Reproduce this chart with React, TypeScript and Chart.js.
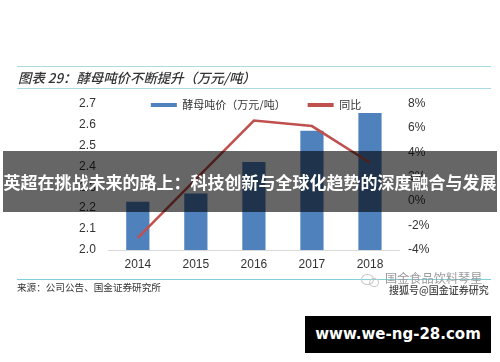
import React, { useEffect, useRef } from "react";
import { Chart, registerables } from "chart.js";

Chart.register(...registerables);

const categories = ["2014", "2015", "2016", "2017", "2018"];
const priceValues = [2.23, 2.27, 2.42, 2.57, 2.655];
const yoyValues = [-3.0, 1.8, 6.6, 6.15, 3.15];
const priceLabel = "酵母吨价（万元/吨）";
const yoyLabel = "同比";
const titleText = "图表 29：酵母吨价不断提升（万元/吨）";
const sourceText = "来源：公司公告、国金证券研究所";
const bannerText = "英超在挑战未来的路上：科技创新与全球化趋势的深度融合与发展";
const siteText = "www.we-ng-28.com";
const watermarkTop = "国金食品饮料琴星";
const watermarkBottom = "搜狐号@国金证券研究";

const CJK = '"Noto Sans CJK SC", sans-serif';
const LATIN = '"Liberation Sans", Arial, sans-serif';

const abs = (s: React.CSSProperties): React.CSSProperties => ({ position: "absolute", whiteSpace: "nowrap", ...s });

export default function App() {
  const ref = useRef<HTMLCanvasElement>(null);
  useEffect(() => {
    const legendShift = {
      id: "legendShift",
      afterLayout(chart: any) {
        const lg = chart.legend;
        if (lg) {
          lg.top = 77.5;
          lg.bottom = 110;
          lg.left += 6;
          lg.right += 6;
        }
      },
    };
    const chart = new Chart(ref.current as HTMLCanvasElement, {
      data: {
        labels: categories,
        datasets: [
          {
            type: "bar",
            label: priceLabel,
            data: priceValues,
            backgroundColor: "#4f81bd",
            borderWidth: 0,
            yAxisID: "y",
            order: 2,
            barPercentage: 0.4,
            categoryPercentage: 1,
          },
          {
            type: "line",
            label: yoyLabel,
            data: yoyValues,
            borderColor: "#c0504d",
            backgroundColor: "#c0504d",
            borderWidth: 2.5,
            pointRadius: 0,
            tension: 0,
            yAxisID: "y1",
            order: 1,
          },
        ],
      } as any,
      options: {
        responsive: false,
        animation: false,
        layout: { padding: { top: 60.5, left: 0, right: 0, bottom: 0 } },
        plugins: {
          tooltip: { enabled: false },
          legend: {
            position: "top",
            align: "center",
            labels: {
              boxWidth: 26,
              boxHeight: 4,
              padding: 22,
              color: "#333333",
              font: { family: CJK, size: 11 },
              sort: (a: any, b: any) => a.datasetIndex - b.datasetIndex,
              generateLabels: (c: any) =>
                (Chart.defaults.plugins.legend.labels as any).generateLabels(c).map((i: any) => ({ ...i, lineWidth: 0 })),
            },
          },
        },
        scales: {
          x: {
            grid: { display: false, drawTicks: false },
            border: { color: "#d9d9d9" },
            ticks: { color: "#333333", font: { family: LATIN, size: 12 }, padding: 7, maxRotation: 0 },
            afterFit(s: any) { s.height = 112; },
          },
          y: {
            position: "left",
            min: 2.0,
            max: 2.7,
            grid: { display: false, drawTicks: false },
            border: { display: false },
            ticks: {
              stepSize: 0.1,
              color: "#333333",
              padding: 13,
              font: { family: LATIN, size: 12 },
              callback: (v: any) => Number(v).toFixed(1),
            },
            afterFit(s: any) { s.width = 108.8; },
          },
          y1: {
            position: "right",
            min: -4,
            max: 8,
            grid: { display: false, drawTicks: false },
            border: { display: false },
            ticks: {
              stepSize: 2,
              color: "#333333",
              padding: 9,
              font: { family: LATIN, size: 12 },
              callback: (v: any) => `${v}%`,
            },
            afterFit(s: any) { s.width = 101; },
          },
        },
      },
      plugins: [legendShift],
    } as any);
    return () => chart.destroy();
  }, []);

  return (
    <div style={{ position: "absolute", left: 0, top: 0, width: 500, height: 362, background: "#fff", overflow: "hidden" }}>
      <canvas ref={ref} width={500} height={362} style={{ position: "absolute", left: 0, top: 0, display: "block", filter: "blur(0.35px)" }} />
      <div style={abs({ left: 17, top: 66, width: 474, height: 1, background: "#a9dbe2" })} />
      <div style={abs({ left: 17, top: 87.5, width: 474, height: 1, background: "#a9dbe2" })} />
      <div style={abs({ left: 17, top: 279, width: 474, height: 1, background: "#7fcfdc" })} />
      <div style={abs({ left: 18, top: 67, lineHeight: "20px", fontFamily: CJK, fontSize: 13.4, fontStyle: "italic", fontWeight: 500, color: "#333" })}>{titleText}</div>
      <div style={abs({ left: 17, top: 279, lineHeight: "16px", fontFamily: CJK, fontSize: 9.6, color: "#333" })}>{sourceText}</div>
      <div style={abs({ left: 361, top: 274, width: 11, height: 9, border: "1px solid #c8c8c8", borderRadius: "50%" })} />
      <div style={abs({ left: 369, top: 278, width: 8, height: 7, border: "1px solid #c8c8c8", borderRadius: "50%" })} />
      <div style={abs({ left: 385, top: 270, lineHeight: "16px", fontFamily: CJK, fontSize: 12.2, color: "#9a9a9a" })}>{watermarkTop}</div>
      <div style={abs({ left: 389, top: 282, lineHeight: "16px", fontFamily: CJK, fontSize: 10, fontWeight: 500, color: "#444" })}>{watermarkBottom}</div>
      <div style={abs({ left: 3, top: 151, width: 494, height: 61, background: "rgba(0,0,0,0.6)" })} />
      <div style={abs({ left: 3, top: 151, width: 494, height: 61, lineHeight: "61px", textAlign: "center", fontFamily: CJK, fontSize: 17, fontWeight: 700, color: "#fff" })}>{bannerText}</div>
      <div style={abs({ left: 305, top: 316, width: 186, height: 37, lineHeight: "37px", textAlign: "center", background: "#000", fontFamily: '"DejaVu Sans", sans-serif', fontSize: 15, fontWeight: 700, color: "#fff" })}>{siteText}</div>
    </div>
  );
}
